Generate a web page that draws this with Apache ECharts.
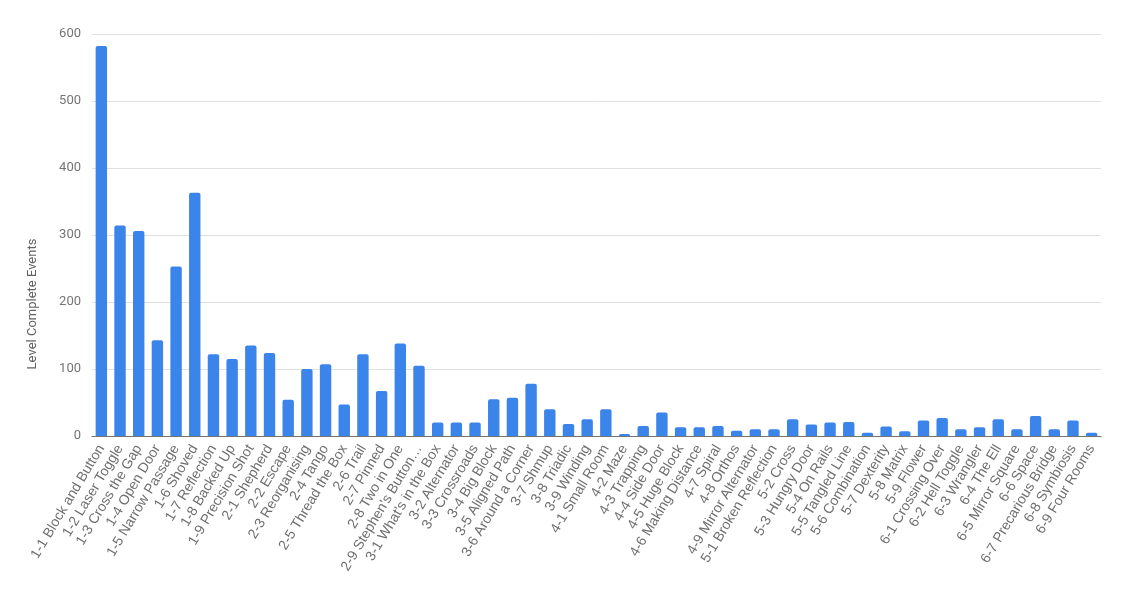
<!DOCTYPE html>
<html>
<head>
<meta charset="utf-8">
<script src="https://cdn.jsdelivr.net/npm/echarts@6/dist/echarts.min.js"></script>
<style>
html,body{margin:0;padding:0;background:#fff;}
#chart{width:1124px;height:603px;}
</style>
</head>
<body>
<div id="chart"></div>
<script>
const categories = [
  "1-1 Block and Button","1-2 Laser Toggle","1-3 Cross the Gap","1-4 Open Door","1-5 Narrow Passage",
  "1-6 Shoved","1-7 Reflection","1-8 Backed Up","1-9 Precision Shot","2-1 Shepherd","2-2 Escape",
  "2-3 Reorganising","2-4 Tango","2-5 Thread the Box","2-6 Trail","2-7 Pinned","2-8 Two in One",
  "2-9 Stephen's Button…","3-1 What's in the Box","3-2 Alternator","3-3 Crossroads","3-4 Big Block",
  "3-5 Aligned Path","3-6 Around a Corner","3-7 Shmup","3-8 Triadic","3-9 Winding","4-1 Small Room",
  "4-2 Maze","4-3 Trapping","4-4 Side Door","4-5 Huge Block","4-6 Making Distance","4-7 Spiral",
  "4-8 Orthos","4-9 Mirror Alternator","5-1 Broken Reflection","5-2 Cross","5-3 Hungry Door",
  "5-4 On Rails","5-5 Tangled Line","5-6 Combination","5-7 Dexterity","5-8 Matrix","5-9 Flower",
  "6-1 Crossing Over","6-2 Hell Toggle","6-3 Wrangler","6-4 The Ell","6-5 Mirror Square","6-6 Space",
  "6-7 Precarious Bridge","6-8 Symbiosis","6-9 Four Rooms"
];
const levelCompleteEvents = [
  582,314,306,143,253,363,122,115,135,124,54,100,107,47,122,67,138,105,
  20,20,20,55,57,78,40,18,25,40,3,15,35,13,13,15,8,
  10,10,25,17,20,21,5,14,7,23,27,10,13,25,10,30,10,23,5
];
const yTicks = { min: 0, max: 600, interval: 100 };
const yAxisTitle = "Level Complete Events";

const chart = echarts.init(document.getElementById('chart'), null, {renderer:'canvas'});
chart.setOption({
  animation: false,
  backgroundColor: '#ffffff',
  grid: { left: 92, right: 23, top: 34, bottom: 167, containLabel: false },
  xAxis: {
    type: 'category',
    data: categories,
    axisTick: { show: false },
    axisLine: { show: true, lineStyle: { color: '#757575', width: 1.2 } },
    axisLabel: {
      interval: 0,
      rotate: 59,
      margin: 10,
      color: '#6f6f6f',
      fontFamily: 'Liberation Sans, Arial, sans-serif',
      fontSize: 14
    }
  },
  yAxis: {
    type: 'value',
    min: yTicks.min, max: yTicks.max, interval: yTicks.interval,
    axisLine: { show: false },
    axisTick: { show: false },
    axisLabel: { color: '#757575', fontFamily: 'Roboto, sans-serif', fontSize: 13, margin: 11 },
    splitLine: { lineStyle: { color: '#e0e0e0', width: 1 } }
  },
  graphic: [{
    type: 'text',
    x: 33, y: 304,
    rotation: Math.PI / 2,
    style: {
      text: yAxisTitle,
      fill: '#616161',
      font: '13px Roboto, sans-serif',
      textAlign: 'center',
      textVerticalAlign: 'middle'
    }
  }],
  series: [{
    type: 'bar',
    data: levelCompleteEvents,
    barWidth: '61%',
    itemStyle: { color: '#3b84ea', borderRadius: [2,2,0,0] }
  }]
});
</script>
</body>
</html>
